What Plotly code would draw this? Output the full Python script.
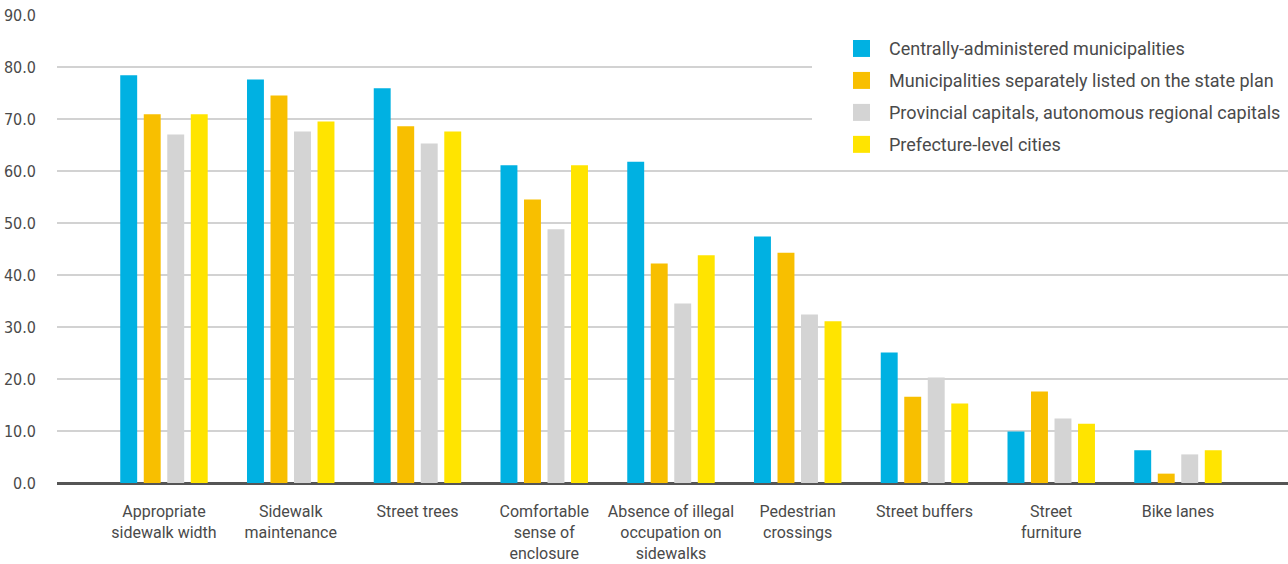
import plotly.graph_objects as go

categories = [
    "Appropriate<br>sidewalk width",
    "Sidewalk<br>maintenance",
    "Street trees",
    "Comfortable<br>sense of<br>enclosure",
    "Absence of illegal<br>occupation on<br>sidewalks",
    "Pedestrian<br>crossings",
    "Street buffers",
    "Street<br>furniture",
    "Bike lanes",
]

series_names = [
    "Centrally-administered municipalities",
    "Municipalities separately listed on the state plan",
    "Provincial capitals, autonomous regional capitals",
    "Prefecture-level cities",
]

central = [78.4, 77.6, 75.9, 61.1, 61.8, 47.4, 25.1, 9.9, 6.3]
separately_listed = [70.9, 74.5, 68.6, 54.5, 42.2, 44.3, 16.6, 17.6, 1.8]
provincial = [67.0, 67.6, 65.3, 48.8, 34.5, 32.4, 20.3, 12.4, 5.5]
prefecture = [70.9, 69.5, 67.6, 61.1, 43.8, 31.1, 15.3, 11.4, 6.3]

series_values = [central, separately_listed, provincial, prefecture]
colors = ["#00B1E2", "#F8BF00", "#D4D4D4", "#FFE400"]

y_ticks = [0, 10, 20, 30, 40, 50, 60, 70, 80, 90]
y_tick_text = ["0.0", "10.0", "20.0", "30.0", "40.0", "50.0", "60.0", "70.0", "80.0", "90.0"]

text_color = "#4a4a4a"
label_font = "Roboto, Liberation Sans, sans-serif"

fig = go.Figure()
for name, vals, col in zip(series_names, series_values, colors):
    fig.add_trace(go.Bar(
        x=list(range(len(categories))), y=vals, name=name,
        marker=dict(color=col, line=dict(width=0)),
        showlegend=False, hoverinfo="y+name",
    ))

fig.update_layout(
    width=1288, height=564,
    margin=dict(l=57, r=0, t=15, b=81),
    paper_bgcolor="white", plot_bgcolor="white",
    barmode="group", bargap=0.258, bargroupgap=0.28,
    xaxis=dict(
        range=[-0.844, 8.868],
        tickmode="array", tickvals=list(range(len(categories))), ticktext=categories,
        tickfont=dict(family=label_font, size=16, color=text_color),
        showgrid=False, zeroline=False, showline=False, ticks="",
        ticklabelstandoff=17,
    ),
    yaxis=dict(
        range=[0, 90],
        tickmode="array", tickvals=y_ticks, ticktext=y_tick_text,
        tickfont=dict(family="Liberation Sans Narrow, DejaVu Sans Condensed, sans-serif",
                      size=16, color=text_color),
        showgrid=True, gridcolor="#d2d2d2", gridwidth=1.6,
        zeroline=True, zerolinecolor="#555555", zerolinewidth=3,
        showline=False, ticks="", ticklabelstandoff=20,
    ),
)

# Legend block: white panel over the gridlines, coloured squares and names
shapes = [dict(type="rect", xref="paper", yref="paper",
               x0=(812 - 57) / 1231, x1=1.0,
               y0=(483.5 - 162) / 468.5, y1=(483.5 - 26) / 468.5,
               fillcolor="white", line=dict(width=0), layer="above")]
annotations = []
legend_y = [48.5, 80.5, 112.5, 144.5]
for name, col, yc in zip(series_names, colors, legend_y):
    shapes.append(dict(type="rect", xref="paper", yref="paper",
                       x0=(853 - 57) / 1231, x1=(870 - 57) / 1231,
                       y0=(483.5 - yc - 8.5) / 468.5, y1=(483.5 - yc + 8.5) / 468.5,
                       fillcolor=col, line=dict(width=0), layer="above"))
    annotations.append(dict(xref="paper", yref="paper",
                            x=(887 - 57) / 1231, y=(483.5 - yc) / 468.5,
                            xanchor="left", yanchor="middle", showarrow=False,
                            text=name, font=dict(family=label_font, size=18, color=text_color)))

fig.update_layout(shapes=shapes, annotations=annotations)

fig.write_html("out.html")
